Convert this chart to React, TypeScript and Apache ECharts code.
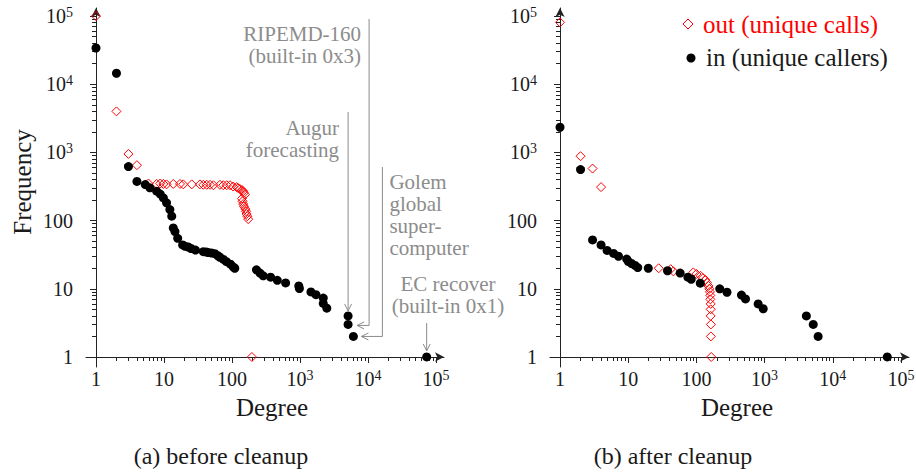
import React, { useEffect, useRef } from 'react';
import * as echarts from 'echarts';

// ---- data: [degree, frequency] ----
const outBefore: [number, number][] = [
  [1, 100000], [2, 4000], [3, 950], [4, 650],
  [5.9, 350], [7.8, 345], [8.8, 350], [9.8, 345], [10.9, 340], [13.7, 345], [17.2, 345],
  [19.2, 340], [25.6, 340], [33.8, 340], [37.9, 335], [42.5, 335], [47.6, 335], [53.4, 330],
  [66.5, 335], [74.5, 330], [83.6, 330], [93.7, 330], [104, 316], [117, 310], [123, 300],
  [131, 290], [140, 280], [146, 270], [150, 255], [155, 240], [140, 210], [143, 192],
  [146, 175], [150, 162], [157, 148], [161, 137], [164, 125], [168, 116], [173, 105], [196, 1],
];
const inBefore: [number, number][] = [
  [1, 34000], [2, 14500], [3, 620], [4, 375], [5.3, 338], [6.2, 302], [7.8, 270], [8.8, 245],
  [9.8, 215], [10.9, 182], [12.2, 145], [13, 116], [13.7, 78], [14.5, 69], [15.9, 55],
  [18.8, 44], [20.5, 42], [22.7, 41], [25, 39], [29, 37], [37.9, 35], [42, 34.5], [45, 34],
  [50, 33.5], [56, 32.7], [62, 30.5], [66.5, 29], [75, 27], [83, 25], [95, 23], [104, 21],
  [110, 20], [229, 19], [258, 17], [288, 15.5], [370, 14.8], [464, 13.3], [615, 12.2],
  [960, 11], [980, 10.1], [1450, 9], [1720, 8.2], [2200, 7.3], [2200, 6.1], [2480, 5.2],
  [5100, 4], [5100, 3], [6100, 2], [73000, 1],
];
const outAfter: [number, number][] = [
  [1, 80700], [2, 880], [3, 580], [4, 310], [28, 20], [42, 19.4], [46, 18], [90, 17.4],
  [100, 16.5], [115, 15.5], [125, 14.3], [135, 13.5], [143, 12.3], [150, 11], [155, 10],
  [158, 9], [160, 8], [160, 7], [162, 6], [162, 5], [162, 4], [163, 3], [163, 2], [165, 1],
];
const inAfter: [number, number][] = [
  [1, 2340], [2, 560], [3, 52], [4, 44], [4.9, 36.5], [6.1, 33], [7.2, 30], [9.5, 27.3],
  [10.1, 25], [11.2, 23.5], [12.6, 22], [13.8, 20.5], [19.7, 20], [37.7, 18.4], [57.8, 17],
  [75, 14.8], [84, 13.8], [114, 12.1], [220, 10], [281, 8.9], [458, 8.1], [525, 7.1],
  [805, 6], [955, 5.1], [4100, 4], [5170, 3], [6100, 2], [63000, 1],
];

const majorTicks = [1, 10, 100, 1000, 10000, 100000];
const minorMultipliers = [2, 3, 4, 5, 6, 7, 8, 9];
const minorDecades = [1, 10, 100, 1000, 10000];
const minorTicks = minorDecades.flatMap((d) => minorMultipliers.map((m) => m * d));

const seriesNames = ['out (unique calls)', 'in (unique callers)'];
const captions = ['(a) before cleanup', '(b) after cleanup'];
const annotations = {
  augur: ['Augur', 'forecasting'],
  ripemd: ['RIPEMD-160', '(built-in 0x3)'],
  golem: ['Golem', 'global', 'super-', 'computer'],
  ec: ['EC recover', '(built-in 0x1)'],
};

const FONT = '"Liberation Serif", "Times New Roman", serif';
const AX_MIN = Math.pow(10, -0.147);
const AX_MAX = Math.pow(10, 5.118);
const RED = '#ff0000';
const GREY = '#8c8c8c';
const INK = '#1a1a1a';

function labelFormatter(v: number) {
  const e = Math.round(Math.log10(v));
  return e >= 3 ? `{b|10}{s|${e}}` : `{b|${Math.round(v)}}`;
}
const rich = {
  b: { fontFamily: FONT, fontSize: 20, color: INK, lineHeight: 22 },
  s: { fontFamily: FONT, fontSize: 14, color: INK, lineHeight: 12, verticalAlign: 'top' },
};

function makeAxes(dim: 'x' | 'y', gridIndex: number) {
  const common: any = {
    type: 'log', logBase: 10, min: AX_MIN, max: AX_MAX, gridIndex,
    splitLine: { show: false },
    position: dim === 'x' ? 'bottom' : 'left',
    offset: -10,
  };
  const major = {
    ...common,
    axisLine: {
      show: true, lineStyle: { color: '#222', width: 1 },
      symbol: ['none', 'arrow'], symbolSize: [7, 9],
    },
    axisTick: { show: true, length: 6, customValues: majorTicks, lineStyle: { color: '#222', width: 1 } },
    axisLabel: {
      show: true, customValues: majorTicks, margin: dim === 'x' ? 11 : 23,
      formatter: labelFormatter, rich,
    },
  };
  const minor = {
    ...common,
    axisLine: { show: false },
    axisTick: { show: true, length: 4, customValues: minorTicks, lineStyle: { color: '#222', width: 1 } },
    axisLabel: { show: false },
  };
  return [major, minor];
}

function scatter(name: string, data: [number, number][], kind: 'out' | 'in', xi: number, yi: number) {
  return kind === 'out'
    ? {
        type: 'scatter', name, data, xAxisIndex: xi, yAxisIndex: yi,
        symbol: 'diamond', symbolSize: 9,
        itemStyle: { color: 'rgba(0,0,0,0)', borderColor: RED, borderWidth: 1, opacity: 1 },
        z: 2,
      }
    : {
        type: 'scatter', name, data, xAxisIndex: xi, yAxisIndex: yi,
        symbol: 'circle', symbolSize: 9,
        itemStyle: { color: '#000', opacity: 1 },
        z: 3,
      };
}

export default function App() {
  const ref = useRef<HTMLDivElement>(null);
  useEffect(() => {
    if (!ref.current) return;
    const chart = echarts.init(ref.current, undefined, { renderer: 'svg' });
    const option: any = {
      animation: false,
      backgroundColor: '#fff',
      grid: [
        { left: 86, top: 8, width: 358, height: 359, outerBoundsMode: 'none' },
        { left: 550, top: 8, width: 359, height: 359, outerBoundsMode: 'none' },
      ],
      xAxis: [...makeAxes('x', 0), ...makeAxes('x', 1)],
      yAxis: [...makeAxes('y', 0), ...makeAxes('y', 1)],
      series: [
        scatter(seriesNames[0], outBefore, 'out', 0, 0),
        scatter(seriesNames[1], inBefore, 'in', 0, 0),
        scatter(seriesNames[0], outAfter, 'out', 2, 2),
        scatter(seriesNames[1], inAfter, 'in', 2, 2),
      ],
    };
    chart.setOption(option);

    const px = (pt: [number, number]) => chart.convertToPixel({ seriesIndex: 1 }, pt) as number[];
    const aug = px([5100, 4]);
    const rip = px([5100, 3]);
    const gol = px([6100, 2]);
    const ec = px([73000, 1]);

    const line = (pts: number[][]) => ({
      type: 'polyline', shape: { points: pts }, style: { stroke: GREY, lineWidth: 1, fill: null }, silent: true,
    });
    const headDown = (x: number, y: number) => line([[x - 3.5, y - 7], [x, y], [x + 3.5, y - 7]]);
    const headLeft = (x: number, y: number) => line([[x + 7, y - 3.5], [x, y], [x + 7, y + 3.5]]);
    const t = (text: string, x: number, y: number, align: string, color: string, size: number, extra: any = {}) => ({
      type: 'text', x, y, silent: true, ...extra,
      style: { text, fill: color, fontFamily: FONT, fontSize: size, align, verticalAlign: 'middle' },
    });
    const block = (lines: string[], x: number, y0: number, align: string) =>
      lines.map((s, i) => t(s, x, y0 + i * 22, align, GREY, 21));

    const graphic: any[] = [
      // Augur
      line([[aug[0], 112], [aug[0], aug[1] - 5]]), headDown(aug[0], aug[1] - 5),
      ...block(annotations.augur, aug[0] - 9, 128, 'right'),
      // RIPEMD-160
      line([[rip[0] + 21, 19], [rip[0] + 21, rip[1] + 1], [rip[0] + 9, rip[1] + 1]]), headLeft(rip[0] + 9, rip[1] + 1),
      ...block(annotations.ripemd, rip[0] + 13, 34, 'right'),
      // Golem
      line([[gol[0] + 29, 167], [gol[0] + 29, gol[1]], [gol[0] + 8, gol[1]]]), headLeft(gol[0] + 8, gol[1]),
      ...block(annotations.golem, gol[0] + 36, 182, 'left'),
      // EC recover
      line([[ec[0], 323], [ec[0], ec[1] - 6]]), headDown(ec[0], ec[1] - 6),
      ...block(annotations.ec, 448, 284, 'center'),
      // legend (right plot)
      { type: 'polygon', shape: { points: [[688, 19], [693, 24], [688, 29], [683, 24]] }, style: { fill: null, stroke: RED, lineWidth: 1 }, silent: true },
      { type: 'circle', shape: { cx: 691, cy: 58, r: 4.5 }, style: { fill: '#000' }, silent: true },
      t(seriesNames[0], 703, 24, 'left', RED, 25),
      t(seriesNames[1], 706, 57, 'left', INK, 25),
      // axis titles
      t('Degree', 272, 407, 'center', INK, 25),
      t('Degree', 737, 407, 'center', INK, 25),
      t('Frequency', 22, 182, 'center', INK, 25, { rotation: Math.PI / 2 }),
      // captions
      t(captions[0], 221, 456, 'center', INK, 24),
      t(captions[1], 673, 456, 'center', INK, 24),
    ];
    chart.setOption({ graphic });

    return () => chart.dispose();
  }, []);
  return <div ref={ref} style={{ width: 916, height: 473, position: 'absolute', left: 0, top: 0 }} />;
}
